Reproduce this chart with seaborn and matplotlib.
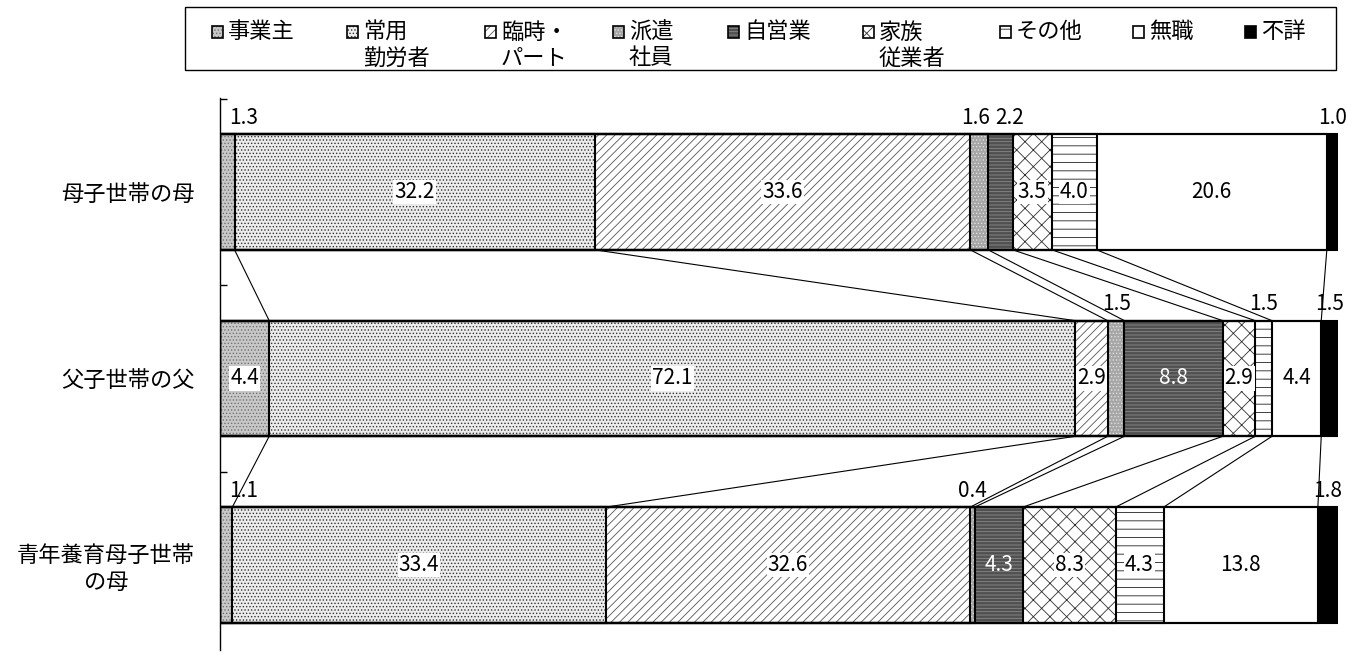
import matplotlib
matplotlib.use("Agg")
import matplotlib.pyplot as plt
import seaborn as sns
import numpy as np
from matplotlib.patches import Rectangle

sns.set_theme(style="white")
plt.rcParams['font.family'] = ['Noto Sans CJK JP', 'DejaVu Sans']
plt.rcParams['hatch.linewidth'] = 0.6

# ---- data ----
categories = ["母子世帯の母", "父子世帯の父", "青年養育母子世帯\nの母"]
series_names = ["事業主", "常用\n勤労者", "臨時・\nパート", "派遣\n社員", "自営業",
                "家族\n従業者", "その他", "無職", "不詳"]
jigyonushi = [1.3, 4.4, 1.1]
joyo = [32.2, 72.1, 33.4]
rinji = [33.6, 2.9, 32.6]
haken = [1.6, 1.5, 0.4]
jiei = [2.2, 8.8, 4.3]
kazoku = [3.5, 2.9, 8.3]
sonota = [4.0, 1.5, 4.3]
mushoku = [20.6, 4.4, 13.8]
fusho = [1.0, 1.5, 1.8]

series = [jigyonushi, joyo, rinji, haken, jiei, kazoku, sonota, mushoku, fusho]

# styles: facecolor, hatch, hatch color
styles = [
    ("#c8c8c8", ".....", "#707070"),
    ("#ececec", ".....", "#333333"),
    ("#ffffff", "////", "#555555"),
    ("#a6a6a6", ".....", "#e0e0e0"),
    ("#505050", "-----", "#8a8a8a"),
    ("#ffffff", "xx", "#303030"),
    ("#ffffff", "--", "#202020"),
    ("#ffffff", "", "#000000"),
    ("#000000", "", "#000000"),
]
text_colors = ["black", "black", "black", "black", "white", "black", "black", "black", "white"]

W, H = 1367, 654
# legend layout (pixels from top-left)
legend_x = [212, 347, 485, 613, 728, 863, 1000, 1133, 1245]

vals = np.array(series)            # shape (9, 3)
cum = np.cumsum(vals, axis=0)      # right edges
starts = cum - vals

fig = plt.figure(figsize=(W / 100, H / 100), dpi=100)
ax = fig.add_axes([220 / W, 1 - 650 / H, 1118 / W, 552 / H])

bar_w = 0.62
for k in range(len(series) - 1, -1, -1):
    fc, hatch, hc = styles[k]
    sns.barplot(x=list(cum[k]), y=categories, orient="h", ax=ax, width=bar_w,
                color=fc, saturation=1, errorbar=None, hatch=hatch,
                edgecolor=hc, linewidth=0)
for k in range(len(series) - 1, -1, -1):
    sns.barplot(x=list(cum[k]), y=categories, orient="h", ax=ax, width=bar_w,
                color="black", saturation=1, errorbar=None, fill=False,
                linewidth=1.5)

# connecting series lines
for i in range(len(categories) - 1):
    for k in range(len(series) - 1):
        ax.plot([cum[k][i], cum[k][i + 1]], [i + bar_w / 2, i + 1 - bar_w / 2],
                color="black", lw=0.8, zorder=1)

# value labels
small = vals < 2.5
for i in range(len(categories)):
    for k in range(len(series)):
        v = vals[k][i]
        xc = starts[k][i] + v / 2
        txt = f"{v:.1f}"
        if small[k][i]:
            ha, xx = "center", xc
            if k == 0:
                ha, xx = "left", 0.8
            elif k + 1 < len(series) and small[k + 1][i]:
                ha, xx = "right", cum[k][i] + 0.2
            elif k > 0 and small[k - 1][i]:
                ha, xx = "left", starts[k][i] + 0.6
            ax.text(xx, i - bar_w / 2 - 0.03, txt, ha=ha, va="bottom",
                    fontsize=15, color="black")
        else:
            kw = {}
            if text_colors[k] == "black" and styles[k][1]:
                kw = dict(bbox=dict(boxstyle="square,pad=0.05", fc="white", ec="none"))
            ax.text(xc, i, txt, ha="center", va="center", fontsize=15,
                    color=text_colors[k], **kw)

ax.set_xlim(0, 100)
ax.set_ylim(2.456, -0.504)
ax.set_xlabel("")
ax.set_ylabel("")
ax.set_xticks([])
for s in ["top", "right", "bottom"]:
    ax.spines[s].set_visible(False)
ax.spines["left"].set_color("black")
ax.spines["left"].set_linewidth(1.0)
ax.set_yticks(range(len(categories)))
ax.set_yticklabels(categories, fontsize=16, color="black")
for lab in ax.get_yticklabels():
    lab.set_multialignment("center")
ax.tick_params(axis="y", which="major", length=0, pad=18)
ax.set_yticks([-0.5, 0.5, 1.5], minor=True)
ax.tick_params(axis="y", which="minor", length=5, direction="in", color="black", left=True)

# manual legend
fig.patches.append(Rectangle((185 / W, 1 - 70 / H), (1336 - 185) / W, 63 / H,
                             transform=fig.transFigure, fill=False, ec="black",
                             lw=1.0))
msz = 11
for x, name, (fc, hatch, hc) in zip(legend_x, series_names, styles):
    fig.patches.append(Rectangle((x / W, 1 - (32 + msz / 2) / H), msz / W, msz / H,
                                 transform=fig.transFigure, facecolor=fc,
                                 hatch=hatch, edgecolor=hc, lw=0))
    fig.patches.append(Rectangle((x / W, 1 - (32 + msz / 2) / H), msz / W, msz / H,
                                 transform=fig.transFigure, fill=False,
                                 edgecolor="black", lw=1.2))
    lines = name.split("\n")
    for j, line in enumerate(lines):
        fig.text((x + 16) / W, 1 - (32 + 26 * j) / H, line, fontsize=16,
                 ha="left", va="center", color="black")

fig.savefig("out.png", dpi=100)
